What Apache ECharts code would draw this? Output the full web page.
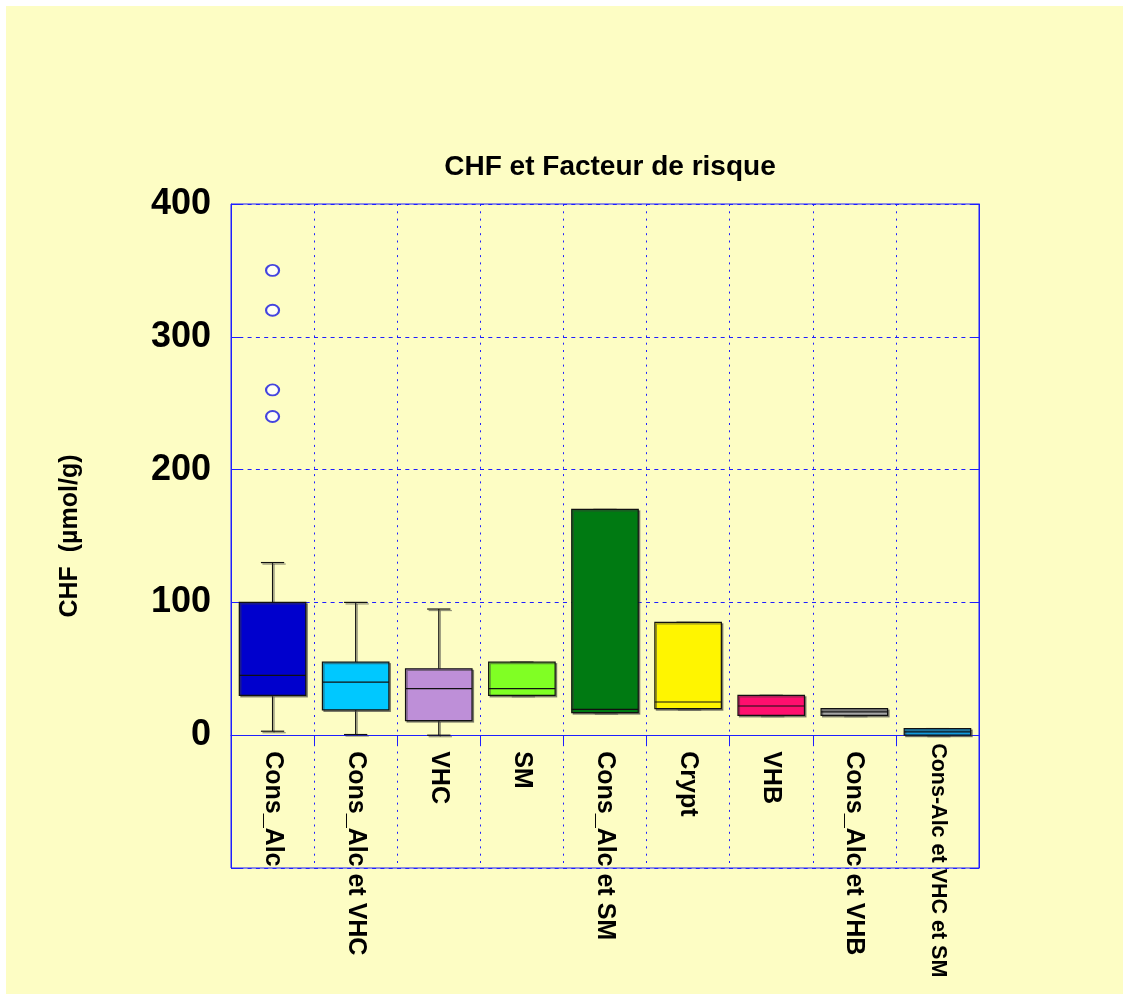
<!DOCTYPE html>
<html>
<head>
<meta charset="utf-8">
<script src="https://cdn.jsdelivr.net/npm/echarts@6/dist/echarts.min.js"></script>
<style>
  html, body { margin: 0; padding: 0; background: #ffffff; }
  #chart { position: absolute; left: 6px; top: 6px; width: 1117px; height: 988px; }
</style>
</head>
<body>
<div id="chart"></div>
<script>
// ---- Data ----
const categories = ['Cons_Alc', 'Cons_Alc et VHC', 'VHC', 'SM', 'Cons_Alc et SM', 'Crypt', 'VHB', 'Cons_Alc et VHB', 'Cons-Alc et VHC et SM'];
const mins    = [3,   0.5, 0,  30, 17,  20, 15, 15, 0];
const q1s     = [30,  19,  11, 30, 17,  20, 15, 15, 0];
const medians = [45,  40,  35, 35, 19.5, 25, 22, 17.5, 2.5];
const q3s     = [100, 55,  50, 55, 170, 85, 30, 20, 5];
const maxs    = [130, 100, 95, 55, 170, 85, 30, 20, 5];
const outlierCategory = [0, 0, 0, 0];
const outlierValues = [350, 320, 260, 240];
const boxColors = ['#0000CD', '#00C8FF', '#BE8FD8', '#80FF24', '#007A12', '#FFF500', '#FF0F6E', '#A4A4A4', '#1199DD'];
const yTicks = { min: -100, max: 400, interval: 100 };

const FONT = "'Liberation Sans', Arial, sans-serif";
const BLUE = '#1f1fff';
const GRID_H = 664;

const boxData = categories.map((c, i) => [i, mins[i], q1s[i], medians[i], q3s[i], maxs[i]]);
const outlierData = outlierValues.map((v, i) => [outlierCategory[i], v]);

function renderBox(params, api) {
  const i = api.value(0);
  const pMin = api.coord([i, api.value(1)]);
  const pQ1 = api.coord([i, api.value(2)]);
  const pMed = api.coord([i, api.value(3)]);
  const pQ3 = api.coord([i, api.value(4)]);
  const pMax = api.coord([i, api.value(5)]);
  const band = api.size([1, 0])[0];
  const bw = band * 0.80;
  const cw = band * 0.28;
  const x = pMed[0];
  const shadow = { shadowColor: 'rgba(60,60,60,0.55)', shadowOffsetX: 1.5, shadowOffsetY: 1.5, shadowBlur: 0 };
  const lineStyle = Object.assign({ stroke: '#111', lineWidth: 1.2 }, shadow);
  return {
    type: 'group',
    children: [
      { type: 'line', shape: { x1: x, y1: pMax[1], x2: x, y2: pQ3[1] }, style: lineStyle },
      { type: 'line', shape: { x1: x, y1: pQ1[1], x2: x, y2: pMin[1] }, style: lineStyle },
      { type: 'line', shape: { x1: x - cw / 2, y1: pMax[1], x2: x + cw / 2, y2: pMax[1] }, style: lineStyle },
      { type: 'line', shape: { x1: x - cw / 2, y1: pMin[1], x2: x + cw / 2, y2: pMin[1] }, style: lineStyle },
      { type: 'rect', shape: { x: x - bw / 2, y: pQ3[1], width: bw, height: Math.max(pQ1[1] - pQ3[1], 1) },
        style: Object.assign({ fill: boxColors[i], stroke: '#111', lineWidth: 1.2 }, shadow) },
      { type: 'line', shape: { x1: x - bw / 2, y1: pMed[1], x2: x + bw / 2, y2: pMed[1] }, style: { stroke: '#111', lineWidth: 1.2 } }
    ]
  };
}

// the category axis sits on the value 0 line
const zeroOffset = -GRID_H * (0 - yTicks.min) / (yTicks.max - yTicks.min);

const chart = echarts.init(document.getElementById('chart'));
chart.setOption({
  backgroundColor: '#FDFDC4',
  animation: false,
  title: {
    text: 'CHF et Facteur de risque',
    left: 599, top: 142, textAlign: 'center',
    textStyle: { fontFamily: FONT, fontWeight: 'bold', fontSize: 28, color: '#000' }
  },
  grid: { left: 225, top: 198, width: 748, height: GRID_H, outerBoundsMode: 'none', containLabel: false,
          show: true, borderColor: BLUE, borderWidth: 1, backgroundColor: 'transparent' },
  xAxis: [
    {
      type: 'category',
      data: categories.map((c, i) => i === categories.length - 1 ? { value: c, textStyle: { fontSize: 21.5, padding: [0, 0, 0, -8] } } : c),
      boundaryGap: true, position: 'bottom', offset: zeroOffset,
      axisLine: { show: false, onZero: false },
      axisTick: { show: false },
      axisLabel: { rotate: -90, interval: 0, margin: 16, fontFamily: FONT, fontWeight: 'bold', fontSize: 25, color: '#000' },
      splitLine: { show: true, interval: 0, lineStyle: { color: BLUE, type: [2, 5.3], width: 1 } }
    },
    {
      type: 'category', data: categories, position: 'top', boundaryGap: true,
      axisLine: { show: true, lineStyle: { color: BLUE, width: 1 } },
      axisTick: { show: true, inside: true, length: 10, interval: 0, lineStyle: { color: BLUE } },
      axisLabel: { show: false },
      splitLine: { show: false }
    }
  ],
  yAxis: [
    {
      type: 'value', min: yTicks.min, max: yTicks.max, interval: yTicks.interval,
      name: 'CHF  (µmol/g)', nameLocation: 'middle', nameRotate: 90, nameGap: 148,
      nameTextStyle: { fontFamily: FONT, fontWeight: 'bold', fontSize: 25, color: '#000' },
      axisLine: { show: true, lineStyle: { color: BLUE, width: 1 } },
      axisTick: { show: true, inside: true, length: 9, lineStyle: { color: BLUE } },
      axisLabel: { formatter: v => (v < 0 ? '' : String(v)), margin: 20, fontFamily: FONT, fontWeight: 'bold', fontSize: 36, color: '#000' },
      splitLine: { show: true, lineStyle: { color: BLUE, type: [4, 4.3], width: 1 } }
    },
    {
      type: 'value', min: yTicks.min, max: yTicks.max, interval: yTicks.interval, position: 'right',
      axisLine: { show: true, lineStyle: { color: BLUE, width: 1 } },
      axisTick: { show: true, inside: true, length: 9, lineStyle: { color: BLUE } },
      axisLabel: { show: false },
      splitLine: { show: false }
    }
  ],
  series: [
    {
      type: 'custom', renderItem: renderBox, data: boxData,
      encode: { x: 0, y: [1, 2, 3, 4, 5] }, z: 5
    },
    {
      type: 'scatter', data: outlierData, symbol: 'emptyCircle', symbolSize: [13, 11],
      itemStyle: { color: '#1515E0', borderColor: '#1515E0', borderWidth: 1.3 }, z: 6
    }
  ]
});
</script>
</body>
</html>
